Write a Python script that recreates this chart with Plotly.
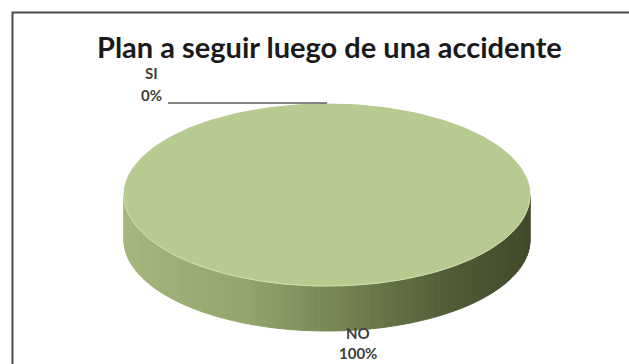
import numpy as np
import plotly.graph_objects as go

# ---- data -------------------------------------------------------------
categories = ["SI", "NO"]
values = [0, 100]
title_text = "Plan a seguir luego de una accidente"

# ---- drawing geometry (pixel space, y grows downward) -----------------
W, H = 629, 364
CX, CY = 327, 195      # centre of the pie's top face
RX, RY = 203, 91       # ellipse radii of the top face
DEPTH = 45             # thickness of the pie
TOP_COLOR = "#b7ca8f"
SIDE_STOPS = [(0.0, "#a6b77e"), (0.3, "#94a66c"), (0.55, "#738250"),
              (0.8, "#525d37"), (1.0, "#414a2b")]


def ell(theta):
    """Point on the top rim; theta in degrees, clockwise from 12 o'clock."""
    t = np.radians(theta)
    return CX + RX * np.sin(t), CY - RY * np.cos(t)


def hex2rgb(h):
    h = h.lstrip("#")
    return np.array([int(h[i:i + 2], 16) for i in (0, 2, 4)], float)


def side_color(x):
    u = (x - (CX - RX)) / (2 * RX)
    u = min(max(u, 0.0), 1.0)
    for (u0, c0), (u1, c1) in zip(SIDE_STOPS[:-1], SIDE_STOPS[1:]):
        if u <= u1:
            f = (u - u0) / (u1 - u0) if u1 > u0 else 0
            c = hex2rgb(c0) * (1 - f) + hex2rgb(c1) * f
            return "rgb(%d,%d,%d)" % tuple(c)
    return SIDE_STOPS[-1][1]


fig = go.Figure()

total = float(sum(values))
angles = np.cumsum([0] + [v / total * 360 for v in values])

# side walls: only the front half (90..270 degrees) is visible
for i, v in enumerate(values):
    a0, a1 = angles[i], angles[i + 1]
    lo, hi = max(a0, 90), min(a1, 270)
    if v <= 0 or hi <= lo:
        continue
    edges = np.linspace(lo, hi, 91)
    for t0, t1 in zip(edges[:-1], edges[1:]):
        x0, y0 = ell(t0)
        x1, y1 = ell(t1)
        col = side_color((x0 + x1) / 2)
        fig.add_trace(go.Scatter(
            x=[x0, x1, x1, x0, x0],
            y=[y0, y1, y1 + DEPTH, y0 + DEPTH, y0],
            fill="toself", fillcolor=col, mode="lines",
            line=dict(color=col, width=1), hoverinfo="skip",
            showlegend=False))

# top faces of the slices
for i, v in enumerate(values):
    a0, a1 = angles[i], angles[i + 1]
    if v <= 0:
        continue
    th = np.linspace(a0, a1, 241)
    xs, ys = ell(th)
    if v < total:
        xs = np.concatenate([[CX], xs, [CX]])
        ys = np.concatenate([[CY], ys, [CY]])
    fig.add_trace(go.Scatter(
        x=xs, y=ys, fill="toself", fillcolor=TOP_COLOR, mode="lines",
        line=dict(color=TOP_COLOR, width=1), hoverinfo="skip",
        name=categories[i], showlegend=False))

# soft highlight along the front rim
th = np.linspace(90, 270, 181)
rx_, ry_ = ell(th)
fig.add_trace(go.Scatter(x=rx_, y=ry_, mode="lines",
                         line=dict(color="rgba(215,228,185,0.8)", width=1),
                         hoverinfo="skip", showlegend=False))

# ---- data labels ------------------------------------------------------
label_font = dict(family="Lato, Open Sans, sans-serif", size=15,
                  color="#404040", weight="bold")
for i, (cat, v) in enumerate(zip(categories, values)):
    pct = "%d%%" % round(v / total * 100)
    mid = (angles[i] + angles[i + 1]) / 2
    px, py = ell(mid)
    if v == 0:
        # tiny slice: label placed to the upper left with a leader line
        lx = 151
        fig.add_trace(go.Scatter(x=[lx + 17, px], y=[py - 1, py - 1],
                                 mode="lines",
                                 line=dict(color="#5a5a5a", width=1.5),
                                 hoverinfo="skip", showlegend=False))
        fig.add_annotation(x=lx, y=py - 31, text=cat, showarrow=False,
                           font=label_font)
        fig.add_annotation(x=lx, y=py - 9, text=pct, showarrow=False,
                           font=label_font)
    else:
        lx = px + 31
        fig.add_annotation(x=lx, y=py + DEPTH + 2, text=cat, showarrow=False,
                           font=label_font)
        fig.add_annotation(x=lx, y=py + DEPTH + 22, text=pct,
                           showarrow=False, font=label_font)

# ---- title and frame --------------------------------------------------
fig.add_annotation(x=329, y=46, text=title_text, showarrow=False,
                   font=dict(family="Lato, Open Sans, sans-serif", size=29,
                             color="#1a1a1a", weight="bold"))
fig.add_shape(type="rect", x0=12.5, y0=12.5, x1=W + 20, y1=H + 20,
              line=dict(color="#4a4a4a", width=2), layer="above")

fig.update_layout(
    width=W, height=H, margin=dict(l=0, r=0, t=0, b=0),
    paper_bgcolor="white", plot_bgcolor="white",
    xaxis=dict(range=[0, W], visible=False, fixedrange=True),
    yaxis=dict(range=[H, 0], visible=False, fixedrange=True),
    showlegend=False,
)

fig.write_html("out.html")
